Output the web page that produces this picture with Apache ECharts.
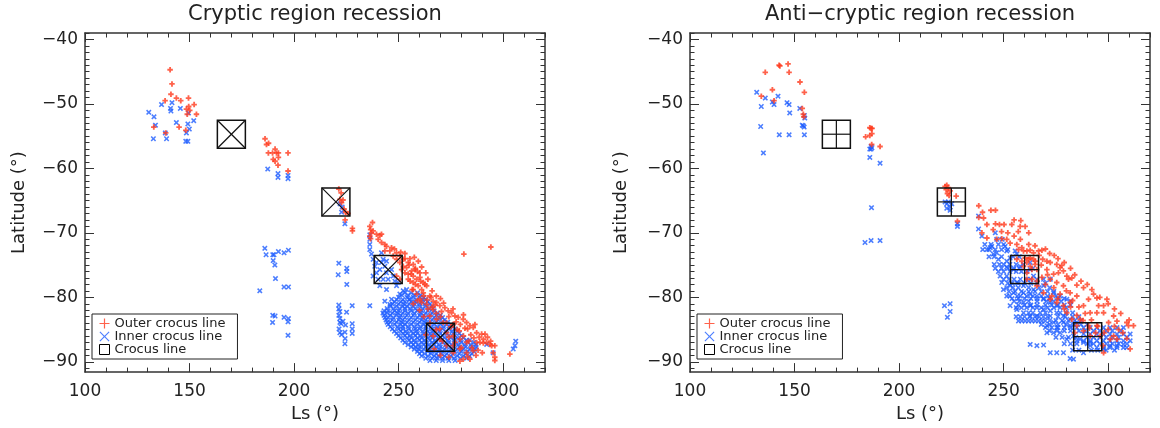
<!DOCTYPE html>
<html>
<head>
<meta charset="utf-8">
<script src="https://cdn.jsdelivr.net/npm/echarts@6/dist/echarts.min.js"></script>
<style>
  html, body { margin: 0; padding: 0; background: #fff; }
  #chart-container { width: 1160px; height: 428px; }
</style>
</head>
<body>
<div id="chart-container"></div>
<script>
// ---- tick labels ----
const xMajor = [100, 150, 200, 250, 300];
const yMajor = [-90, -80, -70, -60, -50, -40];

// ---- crocus line centres [Ls, lat] ----
const crocusL = [[170, -54.7], [220, -65.2], [245, -75.7], [270, -86.2]];
const crocusR = [[170, -54.7], [225, -65.2], [260, -75.7], [290.2, -86.1]];

// ---- cryptic region: outer crocus line (red) ----
const outerL = [
  [140.7, -44.7], [141.6, -46.9], [141.1, -48.5], [138.3, -49.5], [143.7, -49.1], [145.8, -49.5],
  [149.5, -49.1], [148.5, -50.8], [149.6, -50.4], [150.1, -51.0], [152.2, -50.1], [153.3, -51.6],
  [148.9, -51.6], [145, -53.6], [132.9, -53.6], [138.6, -54.5], [148.2, -54.1],
  [186.1, -55.4], [186.8, -56.3], [187.8, -56.1], [190.9, -57], [187.7, -57.6], [189.7, -57.6],
  [191.6, -57.6], [192.5, -57.6], [197.1, -57.6], [190, -58.6], [190.9, -58.9], [192.5, -58.3],
  [192.3, -59.5], [197.1, -60.4],
  [221.4, -63.2], [221.9, -64.8], [222.7, -65.3], [223.4, -64.9], [223.9, -66.3], [224.6, -66.8],
  [225.8, -67], [224.4, -68], [227.9, -69.3], [227.9, -69.7], [222.5, -63.8],
  [237.5, -68.4], [236.2, -69.0], [236.6, -69.5], [237.0, -70.0], [236.2, -70.5], [236.6, -70.9],
  [237.8, -69.7], [239.4, -70.2], [241.0, -70.4], [241.8, -70.2], [240.2, -71.0], [241.8, -71.5],
  [243.4, -71.8], [244.2, -72.1], [246.6, -72.3], [245.8, -72.8], [243.4, -72.8], [249.0, -73.1],
  [250.6, -73.6], [253.0, -74.0], [255.4, -74.0], [259.4, -74.4], [250.6, -74.6], [252.2, -75.2],
  [253.8, -75.4], [251.4, -75.7], [253.0, -76.2], [254.6, -76.4], [257.0, -76.7], [258.6, -77.2],
  [260.2, -76.9], [259.4, -78.2], [261.0, -78.8], [261.8, -79.3], [258.6, -79.5], [264.9, -79.8],
  [266.5, -80.6], [268.1, -80.8], [269.7, -81.3], [272.1, -81.6], [273.7, -82.1], [275.3, -82.4],
  [276.9, -82.9], [278.5, -83.1], [280.9, -83.4], [282.5, -83.9], [284.1, -84.4], [285.7, -84.7],
  [281.7, -84.8], [287.3, -85.5], [289.7, -85.7], [291.3, -85.7], [287.3, -87.0], [288.9, -87.0],
  [290.5, -87.1], [292.1, -87.0], [293.7, -87.3], [294.5, -87.5], [296.0, -87.5], [295.2, -88.6],
  [296.0, -89.3], [296.0, -89.8], [303.2, -88.8], [281.2, -73.3], [294.1, -72.2],
  [257.0, -78.8], [260.2, -80.3], [263.4, -81.1], [266.5, -81.9], [264.9, -82.9], [268.1, -83.4],
  [271.3, -83.9], [269.7, -84.9], [272.9, -85.5], [276.1, -86.0], [279.3, -86.5], [282.5, -87.0],
  [276.1, -87.5], [279.3, -88.0], [282.5, -88.6], [285.7, -88.3], [266.5, -86.0], [269.7, -86.5],
  [272.9, -87.5], [276.1, -88.6], [280.9, -89.6], [284.1, -89.6], [279.3, -89.9],
  [252.2, -74.1], [254.6, -74.6], [257.0, -74.9], [257.8, -75.7], [256.2, -75.9], [260.2, -76.2],
  [261.8, -77.7], [263.4, -78.2], [249.0, -74.1], [247.4, -73.6], [254.6, -77.2], [257.0, -77.7],
  [250.6, -77.2], [249.0, -76.7],
  [262, -79.8], [263.5, -80.4], [265.5, -80.0], [267.5, -81.2], [270.5, -82.2], [271.5, -80.9],
  [274, -83], [276, -81.8], [277.5, -83.8], [279.5, -84.2], [281, -82.7], [283, -84.9],
  [284.5, -85.8], [286.5, -84.2], [288.5, -86.2], [290.5, -86.5], [292.5, -86.2], [294, -86.8],
  [286, -86.3], [283.5, -86.8], [281, -86], [278, -85], [275, -84.6], [273, -84], [270, -83],
  [268, -82.5], [266, -81.5], [264, -81.8], [261, -80.8], [259, -80.5], [256.5, -78.8], [258, -78],
  [255.5, -77.5], [262.5, -78], [264, -77.2], [263, -76.2], [266, -79], [268, -79.8], [270, -80.2],
  [285, -87.8], [288, -88.2], [290, -88.6], [287, -89], [283, -89.2],
  [248, -72.5], [251, -73], [253, -73.2], [255, -75], [256, -76.4], [258, -75.5], [259, -76],
  [260.5, -77.5], [257.5, -73.8], [261, -75.3],
  [262, -83], [265, -84], [268, -85], [271, -86.8], [274, -86.2], [277, -87], [280, -87.8],
  [267, -88], [270, -89], [274, -89.3], [263, -85.8], [260, -82], [257, -81], [276, -84.2],
  [279, -85.2]
];

// ---- cryptic region: inner crocus line (blue) ----
const innerL = [
  [130.5, -51.3], [133, -52], [133.7, -53.3], [132.7, -55.4], [136.6, -50.1], [140.9, -50.7],
  [141.1, -51.1], [141.6, -49.8], [145.6, -50.7], [143.7, -52.9], [138.4, -54.5], [139, -55.4],
  [148.5, -54.5], [148.2, -55.8], [149.2, -55.8], [149.5, -51.4], [149.9, -53.9], [149.2, -53.1],
  [152, -52.6],
  [187.4, -60.1], [192.3, -60.8], [192.3, -61.4], [197.1, -61.1], [197.1, -61.6],
  [186, -72.4], [186.6, -73.4], [189.8, -73.4], [190.4, -73.4], [192.5, -72.9], [195.2, -73.1],
  [197.3, -72.7], [190, -74.3], [190.8, -75], [191.1, -77.1], [195.2, -78.4], [197.3, -78.4],
  [183.6, -79], [189.8, -82.8], [190.9, -82.9], [189.7, -83.9], [195.2, -83.1], [197.3, -83.3],
  [197.1, -83.8], [197.1, -85.9],
  [221.4, -74.7], [221.1, -76.5], [225.2, -75.5], [225.2, -76], [225.2, -78], [221.4, -81.2],
  [221.4, -81.8], [221.9, -82.2], [221.4, -82.8], [221.9, -83.3], [221.9, -83.9], [222.5, -84.1],
  [223.4, -83.7], [224.6, -84.3], [221.5, -84.9], [221.9, -85.5], [222.7, -85.8], [224.3, -85.4],
  [224.4, -86.4], [224.3, -87.2], [227.8, -81.3], [227.8, -84.1], [227.8, -84.9], [227.8, -85.6],
  [225.1, -82.3], [222.7, -66.8], [224.3, -68.6], [222, -65.5], [223, -66],
  [236.2, -70.3], [236.2, -71.0], [236.2, -71.8], [236.2, -72.6], [237.0, -73.3], [237.8, -74.1],
  [236.2, -81.3], [239.4, -74.6], [241.8, -73.1], [242.6, -74.1], [243.4, -75.2], [241.0, -75.7],
  [242.6, -77.2], [244.2, -78.8], [243.4, -80.6], [246.6, -80.3], [245.8, -81.1], [250.6, -79.5],
  [253.8, -78.8], [244.2, -76.2], [246.6, -75.7], [249.0, -78.2], [252.2, -79.0], [255.4, -80.3],
  [238.6, -75.2], [239.4, -76.2], [240.2, -77.2], [241.8, -74.6], [244.2, -74.4], [245.0, -77.2],
  [247.4, -76.7], [248.2, -77.5], [249.8, -77.7], [241.0, -78.2], [237.8, -76.7],
  [292.1, -87.3], [295.2, -88.6], [304.8, -88.0], [305.6, -87.5], [306, -86.8]
];
const innerRowsL = [
  [-79.3, [253, 256, 259]],
  [-79.65, [251.5, 254.5, 257.5, 260.5]],
  [-80.0, [250, 254, 257, 260, 262]],
  [-80.35, [249, 252, 255, 258.5, 261.5, 263]],
  [-80.7, [248, 251, 253, 256, 258, 261, 264]],
  [-81.05, [247, 250, 252.5, 255, 257.5, 260, 262.5, 265]],
  [-81.4, [246, 249, 252, 254, 257, 260, 263, 266]],
  [-81.75, [244.5, 247.5, 250.5, 253, 255.5, 258, 261.5, 264.5, 266.5]],
  [-82.1, [243, 245, 248, 250, 253, 256, 259, 261, 264, 267]],
  [-82.45, [242.5, 244.5, 247, 249.5, 252, 254.5, 257.5, 260.5, 263, 266, 268.5]],
  [-82.8, [243, 246, 249, 251, 254, 257, 260, 262, 265, 268, 270]],
  [-83.15, [243.5, 245, 247.5, 250.5, 253, 256, 259, 261.5, 264, 267, 269.5, 271]],
  [-83.5, [244, 247, 250, 252, 255, 258, 261, 263, 266, 269, 272]],
  [-83.85, [244.5, 246, 249, 251.5, 254, 257, 260, 262.5, 265, 268, 271, 273.5]],
  [-84.2, [245, 248, 251, 253, 256, 259, 262, 264, 267, 270, 273, 275]],
  [-84.55, [246, 249.5, 252, 254.5, 257.5, 260.5, 263, 265.5, 268.5, 271.5, 274.5, 276]],
  [-84.9, [247, 250, 252, 255, 258, 260, 263, 266, 268, 271, 274, 277]],
  [-85.25, [248, 251, 253.5, 256, 258.5, 261.5, 264, 266.5, 269.5, 272.5, 275.5, 278]],
  [-85.6, [249, 252, 254, 257, 259, 262, 265, 267, 270, 273, 276, 279]],
  [-85.95, [250, 253, 255.5, 258, 260.5, 263, 265.5, 268, 271, 274, 277, 280]],
  [-86.3, [251, 254, 256, 259, 261, 264, 266, 269, 272, 275, 278, 281]],
  [-86.65, [252, 255, 257.5, 260, 262.5, 265, 267.5, 270.5, 273.5, 276.5, 279.5, 282.5, 284]],
  [-87.0, [253, 256, 258, 261, 263, 266, 268, 271, 274, 277, 280, 283, 286]],
  [-87.35, [254.5, 257, 259.5, 262, 264.5, 267, 269.5, 272.5, 275.5, 278.5, 281.5, 284.5, 287]],
  [-87.7, [256, 258, 260, 263, 265, 268, 270, 273, 276, 279, 282, 285, 287]],
  [-88.05, [257.5, 259.5, 262, 264.5, 267, 269.5, 272, 275, 278, 281, 284, 286.5]],
  [-88.4, [259, 261, 264, 266, 269, 271, 274, 277, 280, 283, 286]],
  [-88.75, [260, 262.5, 265.5, 268, 270.5, 273, 276, 279, 282, 285]],
  [-89.1, [261, 264, 267, 269, 272, 275, 278, 281, 284]],
  [-89.45, [263, 266, 268.5, 271, 273.5, 276.5, 279.5, 282.5]],
  [-89.8, [265, 268, 271, 274, 277]]
];

// ---- anti-cryptic region: outer crocus line (red) ----
const outerR = [
  [136, -45.1], [142.6, -44.0], [143, -44.1], [146.9, -43.8], [147.4, -45.1], [152.6, -46.6],
  [154.7, -48.2], [139.4, -47.8], [134.1, -48.8], [140.2, -49.5], [153.7, -50.7], [154.4, -52],
  [154.2, -51.6],
  [184, -55.1], [186, -53.7], [186.6, -53.8], [187.1, -53.8], [186, -54.9], [187, -54.6],
  [186.9, -56.3], [190.9, -56.6],
  [222.8, -62.6], [222, -62.8], [223.6, -63], [224.4, -63.5], [223.1, -63.9], [223.9, -64.2],
  [227.3, -64.3], [227.9, -68.2], [222.5, -63.3],
  [238.1, -65.8], [239.9, -66.8], [238.1, -67.6], [240.4, -67.7], [243.9, -66.5], [246.1, -66.5],
  [242.0, -68.7], [246.1, -68.6], [248.0, -68.7], [250.2, -68.7], [253.9, -68.7], [258.2, -68.1],
  [260.3, -69.0], [257.9, -69.0], [239.6, -70.0], [242.0, -70.8], [246.7, -71.0], [249.1, -70.9],
  [251.5, -71.0], [253.1, -71.6], [256.3, -71.8], [257.1, -72.6], [258.7, -72.3], [259.5, -72.8],
  [261.1, -72.8], [262.7, -72.7], [264.3, -73.1], [266.7, -72.8], [268.3, -72.7], [274.2, -73.5],
  [268.7, -74.1], [270.7, -74.4], [272.3, -74.6], [275.4, -74.9], [277.8, -75.05], [277.0, -75.4],
  [278.6, -75.9], [280.2, -76.7], [281.0, -77.2], [282.6, -77.0], [285.0, -78.1], [288.2, -78.5],
  [292.2, -78.8], [294.6, -80.1], [299.4, -80.3], [290.6, -80.3], [295.4, -81.3], [297.8, -81.3],
  [294.6, -82.4], [297.8, -82.4], [302.6, -82.9], [304.2, -83.7], [308.9, -83.9], [312.1, -84.4],
  [309.7, -84.4], [300.2, -83.9], [302.6, -86.0], [304.2, -86.5], [308.9, -86.4], [310.5, -88.0],
  [297.8, -88.6], [297.5, -87.5], [296.2, -86.0], [291.4, -86.0], [288.2, -85.2], [285.0, -84.4],
  [282.6, -83.4], [280.2, -82.4], [278.6, -81.3], [275.4, -80.8], [272.3, -80.3], [269.1, -79.3],
  [265.9, -78.2], [263.5, -77.2], [261.1, -76.2], [262.7, -75.2], [265.1, -74.4], [268.3, -76.9],
  [275.4, -77.7], [278.6, -78.2], [272.3, -77.2], [276.2, -76.2], [256.3, -74.1], [259.5, -75.2],
  [261.9, -74.1], [265.9, -75.7], [270.7, -75.7], [273.9, -76.4], [261.1, -77.2], [281.8, -79.3],
  [285.0, -79.8], [288.2, -81.3], [291.4, -82.4], [281.8, -80.8],
  [260.3, -73.9], [262.7, -73.9], [264.3, -74.1], [265.1, -74.9], [263.5, -75.7], [261.1, -74.6],
  [258.7, -74.4], [294.6, -84.4], [290.6, -84.4], [286.6, -83.4],
  [252, -70], [255, -70.5], [258, -71], [262, -71.8], [265, -72], [270, -72.5], [272, -73.2],
  [276, -74], [279, -74.6], [282, -75.5], [284, -76.5], [287, -77.5], [290, -78], [293, -79.5],
  [296, -80], [300, -81], [303, -81.8], [306, -82.5], [310, -83.5], [267, -73.5], [268, -75],
  [271, -76.5], [274, -78.5], [277, -79.5], [280, -79], [283, -80.5], [286, -81.5], [289, -82.5],
  [292, -83.5], [295, -84.5], [298, -85.5], [301, -86.5], [305, -85], [245, -69.5], [249, -69.8],
  [255, -68], [262, -70], [257, -69.8],
  [266, -77.5], [270, -78], [273, -79.8], [276, -80.2], [279, -81.8], [282, -81.5], [285, -82.8],
  [288, -83.6], [291, -84.8], [284, -85.5], [294, -85.5], [300, -85], [303, -84.5], [307, -85.5]
];

// ---- anti-cryptic region: inner crocus line (blue) ----
const innerR = [
  [131.9, -48.2], [136, -49.1], [134.1, -50.4], [139.4, -49.7], [140.2, -50.1], [142.1, -48.8],
  [146.4, -49.8], [147.4, -50.1], [147.7, -51.4], [152.5, -50.7], [154.2, -53.4], [154.6, -53.6],
  [153.7, -53.3], [133.8, -53.5], [142.7, -54.8], [147.4, -54.8], [154.7, -54.8], [135.1, -57.6],
  [154.7, -51.8], [154.9, -52.2],
  [186.6, -56.6], [186.6, -57], [187, -56.8], [186, -57], [186, -58.3], [190.9, -59.2],
  [186.8, -66.1], [183.7, -71.5], [186.6, -71.2], [190.9, -71.2],
  [221.7, -81.3], [224.4, -81], [224.4, -82.2], [223.1, -83.1],
  [222, -65.2], [222.8, -65.5], [223.6, -65.2], [224.4, -66], [225.2, -65.5], [222.8, -66.2],
  [224.4, -66.5], [227.9, -68.6], [227.9, -69],
  [238.0, -67.4], [238.0, -69.4], [239.6, -70.5], [242.0, -72.6], [243.6, -72.3], [246.0, -70.0],
  [246.7, -71.0], [249.3, -71.0], [250.7, -72.1], [251.5, -72.8], [246.7, -73.1], [247.5, -74.1],
  [251.5, -74.4], [253.1, -73.9], [255.5, -72.8], [256.3, -73.3], [251.5, -75.3], [254.7, -75.7],
  [257.9, -75.2], [259.5, -74.9], [262.7, -74.6], [262.7, -75.7], [264.3, -76.7], [265.9, -77.2],
  [269.1, -77.2], [272.3, -77.2], [251.5, -76.7], [253.1, -78.2], [254.7, -79.3], [259.5, -79.3],
  [262.7, -79.5], [265.9, -79.8], [269.1, -80.3], [272.3, -80.8], [275.4, -81.3], [259.5, -80.8],
  [262.7, -81.3], [265.9, -81.6], [269.1, -81.9], [272.3, -82.1], [275.4, -82.4], [278.6, -82.9],
  [281.8, -83.4], [285.0, -83.9],
  [257.1, -83.66], [258.7, -83.66], [260.3, -83.66], [261.9, -83.66], [263.5, -83.66],
  [265.1, -83.66], [266.7, -83.66], [268.3, -83.66], [269.9, -83.66],
  [270.7, -85.5], [273.9, -85.5], [277.0, -85.5], [280.2, -86.5], [283.4, -86.0], [286.6, -86.5],
  [288.2, -87.0], [291.4, -87.5], [294.6, -87.8], [297.8, -88.0], [300.9, -87.5], [304.2, -87.5],
  [307.3, -87.3], [308.9, -87.8], [262.7, -87.3], [265.9, -87.5], [269.1, -87.4], [272.3, -88.6],
  [275.4, -88.6], [278.6, -88.6], [281.8, -89.5], [283.4, -89.6], [288.2, -88.6], [291.4, -87.0],
  [285.0, -84.7], [288.2, -84.7], [291.4, -84.7], [294.6, -84.7], [297.8, -84.7], [300.9, -84.7],
  [304.2, -84.7], [307.3, -84.7],
  [288.2, -85.7], [291.4, -85.7], [294.6, -85.7], [297.8, -85.7], [300.9, -85.7], [304.2, -85.7],
  [307.3, -85.7], [310.5, -85.7],
  [285.0, -86.75], [288.2, -86.75], [291.4, -86.75], [294.6, -86.75], [297.8, -86.75],
  [300.9, -86.75], [304.2, -86.75], [307.3, -86.75], [310.5, -86.75],
  [297.8, -87.8], [300.9, -87.8], [304.2, -87.8], [307.3, -87.8],
  [256.3, -77.7], [259.5, -78.2], [264.3, -78.8], [269.1, -78.2], [273.9, -79.3], [277.0, -79.8],
  [280.2, -80.3], [278.6, -83.9], [281.8, -84.4], [273.9, -83.9], [270.7, -84.4], [275.4, -84.7],
  [272.3, -82.9], [265.9, -82.9], [262.7, -82.9], [259.5, -82.4], [256.3, -81.9], [253.1, -81.3],
  [251.5, -79.8], [249.9, -78.8], [249.1, -77.7], [248.3, -76.7], [244.3, -72.1], [245.1, -73.3]
];
const innerRowsR = [
  [-71.8, [241, 244, 247.5, 250]],
  [-72.6, [240, 243, 246, 249, 252]],
  [-73.7, [243, 245.5, 249, 254.5, 257.5]],
  [-74.9, [245.5, 248, 250, 253, 256]],
  [-75.5, [246, 249, 252, 255, 257.5, 264]],
  [-76.0, [247.5, 250, 253, 256, 258.5, 261]],
  [-77.2, [250, 252.5, 255, 258, 261, 263]],
  [-77.8, [252, 254, 257, 260, 263, 266, 270]],
  [-78.5, [251.5, 254.5, 257, 262, 267, 272]],
  [-79.1, [252.5, 255.5, 258.5, 262, 265, 268, 271, 274]],
  [-79.8, [253, 256.5, 258, 261, 264, 268, 271, 275]],
  [-80.2, [254, 257, 260, 263, 266, 269, 272, 276, 279]],
  [-80.6, [255, 257.5, 262, 266, 270.5, 274, 277.5, 282]],
  [-81.2, [257, 260, 263, 266, 270, 273, 276, 279, 282]],
  [-81.6, [256, 258.5, 261, 264, 268, 271, 274, 277, 280]],
  [-82.4, [262, 264, 267.5, 270, 277, 280, 283]],
  [-83.0, [256, 258, 260, 262.5, 265, 267, 269, 271, 276, 279.5, 283, 286]],
  [-83.6, [272, 275, 278, 281, 284, 287]],
  [-84.2, [268, 272, 276, 280, 283.5, 287, 290]],
  [-84.7, [270, 273, 276, 279, 282]],
  [-85.2, [272, 275.5, 279, 282, 286, 289, 293, 296, 299, 302, 306]],
  [-86.2, [275, 278, 281, 284.5, 290, 293, 296, 299, 302, 305, 309]],
  [-87.2, [279, 282, 285, 290, 293, 296, 299, 302, 305, 309]],
  [-88.2, [283, 286, 292, 295, 299, 303]]
];

const FONT = 'DejaVu Sans';
const INK = '#222';
const RED = '#ff3b1e';
const BLUE = '#1f5eff';
const BOX = 28;

const PLUS = 'path://M2,0H4V2H6V4H4V6H2V4H0V2H2Z';
const CROSS = 'path://M0,1.2L1.2,0L3,1.8L4.8,0L6,1.2L4.2,3L6,4.8L4.8,6L3,4.2L1.2,6L0,4.8L1.8,3Z';
const PLUS_ICON = 'path://M4.4,0H5.6V4.4H10V5.6H5.6V10H4.4V5.6H0V4.4H4.4Z';
const CROSS_ICON = 'path://M0,0.8L0.8,0L5,4.2L9.2,0L10,0.8L5.8,5L10,9.2L9.2,10L5,5.8L0.8,10L0,9.2L4.2,5Z';

const rows = (list) => list.flatMap(([lat, ls]) => ls.map((x) => [x, lat]));

const xMinor = [];
for (let v = 110; v <= 320; v += 10) if (v % 50) xMinor.push(v);
const yMinor = [];
for (let v = -91; v <= -39; v += 1) if (v % 10) yMinor.push(v);

const tickStyle = { color: '#333', width: 1 };
const frameLine = { show: true, lineStyle: { color: '#333', width: 1.5 } };

const xAxes = (grid) => {
  const base = {
    type: 'value', gridIndex: grid, min: 100, max: 320,
    splitLine: { show: false }, axisLine: { show: false }, axisLabel: { show: false },
  };
  const major = { show: true, inside: true, length: 9, customValues: xMajor, lineStyle: tickStyle };
  const minor = { show: true, inside: true, length: 4.5, customValues: xMinor, lineStyle: tickStyle };
  return [
    {
      ...base, position: 'bottom', axisLine: frameLine, axisTick: major,
      axisLabel: { show: true, customValues: xMajor, margin: 11, fontFamily: FONT, fontSize: 17, color: INK },
      name: 'Ls (°)', nameLocation: 'middle', nameGap: 30,
      nameTextStyle: { fontFamily: FONT, fontSize: 18, color: INK },
    },
    { ...base, position: 'bottom', axisTick: minor },
    { ...base, position: 'top', axisLine: frameLine, axisTick: major },
    { ...base, position: 'top', axisTick: minor },
  ];
};

const yAxes = (grid, nameGap) => {
  const base = {
    type: 'value', gridIndex: grid, min: -91.6, max: -39,
    splitLine: { show: false }, axisLine: { show: false }, axisLabel: { show: false },
  };
  const major = { show: true, inside: true, length: 9, customValues: yMajor, lineStyle: tickStyle };
  const minor = { show: true, inside: true, length: 4.5, customValues: yMinor, lineStyle: tickStyle };
  return [
    {
      ...base, position: 'left', axisLine: frameLine, axisTick: major,
      axisLabel: {
        show: true, customValues: yMajor, margin: 7, fontFamily: FONT, fontSize: 17, color: INK,
        formatter: (v) => String(v).replace('-', '\u2212'),
      },
      name: 'Latitude (°)', nameLocation: 'middle', nameGap, nameRotate: 90,
      nameTextStyle: { fontFamily: FONT, fontSize: 18, color: INK },
    },
    { ...base, position: 'left', axisTick: minor },
    { ...base, position: 'right', axisLine: frameLine, axisTick: major },
    { ...base, position: 'right', axisTick: minor },
  ];
};

const scatter = (name, data, grid, color, symbol) => ({
  type: 'scatter', name, data, xAxisIndex: grid * 4, yAxisIndex: grid * 4,
  symbol, symbolSize: 5.5, itemStyle: { color }, silent: true,
});

const crocus = (data, grid, mark) => ({
  type: 'custom', name: 'Crocus line', data, xAxisIndex: grid * 4, yAxisIndex: grid * 4,
  silent: true, z: 5, itemStyle: { color: '#000' },
  renderItem: (params, api) => {
    const c = api.coord([api.value(0), api.value(1)]);
    const h = BOX / 2;
    const segs = mark === 'x'
      ? [[c[0] - h, c[1] - h, c[0] + h, c[1] + h], [c[0] - h, c[1] + h, c[0] + h, c[1] - h]]
      : [[c[0], c[1] - h, c[0], c[1] + h], [c[0] - h, c[1], c[0] + h, c[1]]];
    return {
      type: 'group',
      children: [
        { type: 'rect', shape: { x: c[0] - h, y: c[1] - h, width: BOX, height: BOX },
          style: { fill: 'none', stroke: '#111', lineWidth: 1.5 } },
        ...segs.map((s) => ({ type: 'line', shape: { x1: s[0], y1: s[1], x2: s[2], y2: s[3] },
          style: { stroke: '#111', lineWidth: 1.2 } })),
      ],
    };
  },
});

const legendBox = (left) => ({
  left, top: 314, orient: 'vertical', itemGap: 0, itemWidth: 10, itemHeight: 10,
  padding: [3, 12, 3, 7], borderColor: '#222', borderWidth: 1, backgroundColor: '#fff',
  selectedMode: false,
  textStyle: { fontFamily: FONT, fontSize: 13, color: INK, lineHeight: 12.5 },
  data: [
    { name: 'Outer crocus line', icon: PLUS_ICON, itemStyle: { color: RED } },
    { name: 'Inner crocus line', icon: CROSS_ICON, itemStyle: { color: BLUE } },
    { name: 'Crocus line', icon: 'rect', itemStyle: { color: '#fff', borderColor: '#000', borderWidth: 1 } },
  ],
});

const chart = echarts.init(document.getElementById('chart-container'), null, { renderer: 'canvas' });

chart.setOption({
  animation: false,
  backgroundColor: '#fff',
  title: [
    { text: 'Cryptic region recession', left: 315, top: 4, textAlign: 'center', padding: 0,
      textStyle: { fontFamily: FONT, fontSize: 21, fontWeight: 'normal', color: INK } },
    { text: 'Anti\u2212cryptic region recession', left: 920, top: 4, textAlign: 'center', padding: 0,
      textStyle: { fontFamily: FONT, fontSize: 21, fontWeight: 'normal', color: INK } },
  ],
  legend: [legendBox(92), legendBox(697)],
  grid: [
    { left: 85, top: 33, width: 460, height: 340 },
    { left: 690, top: 33, width: 460, height: 340 },
  ],
  xAxis: [...xAxes(0), ...xAxes(1)],
  yAxis: [...yAxes(0, 57), ...yAxes(1, 60)],
  series: [
    scatter('Inner crocus line', innerL.concat(rows(innerRowsL)), 0, BLUE, CROSS),
    scatter('Outer crocus line', outerL, 0, RED, PLUS),
    crocus(crocusL, 0, 'x'),
    scatter('Inner crocus line', innerR.concat(rows(innerRowsR)), 1, BLUE, CROSS),
    scatter('Outer crocus line', outerR, 1, RED, PLUS),
    crocus(crocusR, 1, '+'),
  ],
});
</script>
</body>
</html>
